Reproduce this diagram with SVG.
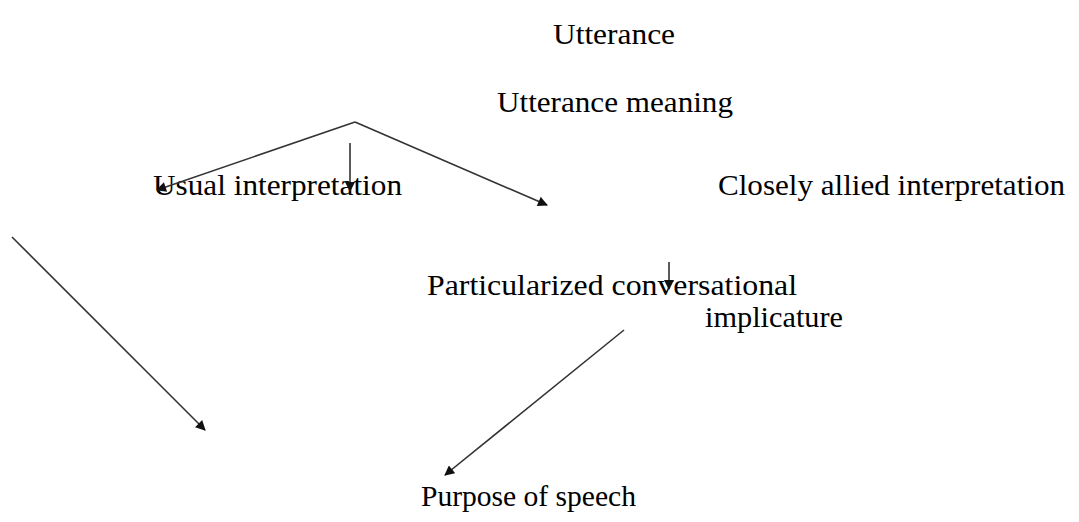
<svg xmlns="http://www.w3.org/2000/svg" width="1079" height="522" viewBox="0 0 1079 522">
<defs>
<style>
text{font-family:"Liberation Serif","Times New Roman",serif;font-size:30px;fill:#000}
.c line{stroke:#333;stroke-width:1.6;fill:none}
</style>
<marker id="ah" viewBox="0 0 10 10" refX="9" refY="5" markerWidth="11" markerHeight="10" markerUnits="userSpaceOnUse" orient="auto"><path d="M0,0 L10,5 L0,10 z" fill="#111"/></marker>
</defs>
<rect width="1079" height="522" fill="#fff"/>
<g id="n-utterance"><text x="553" y="44" textLength="122" lengthAdjust="spacingAndGlyphs">Utterance</text></g>
<g id="n-meaning"><text x="497" y="112" textLength="236" lengthAdjust="spacingAndGlyphs">Utterance meaning</text></g>
<g id="n-usual"><text x="153" y="195" textLength="249" lengthAdjust="spacingAndGlyphs">Usual interpretation</text></g>
<g id="n-closely"><text x="718" y="195" textLength="347" lengthAdjust="spacingAndGlyphs">Closely allied interpretation</text></g>
<g id="n-particular"><text x="427" y="295" textLength="370" lengthAdjust="spacingAndGlyphs">Particularized conversational</text><text x="705" y="327" textLength="138" lengthAdjust="spacingAndGlyphs">implicature</text></g>
<g id="n-purpose"><text x="421" y="506" textLength="215" lengthAdjust="spacingAndGlyphs">Purpose of speech</text></g>
<g class="c" id="connectors">
<line x1="355" y1="122" x2="157" y2="190" marker-end="url(#ah)"/>
<line x1="355" y1="122" x2="547" y2="205" marker-end="url(#ah)"/>
<line x1="350" y1="143" x2="350" y2="191" marker-end="url(#ah)"/>
<line x1="669" y1="262" x2="669" y2="289" marker-end="url(#ah)"/>
<line x1="12" y1="237" x2="205" y2="430" marker-end="url(#ah)"/>
<line x1="624" y1="330" x2="445" y2="475" marker-end="url(#ah)"/>
</g>
</svg>
